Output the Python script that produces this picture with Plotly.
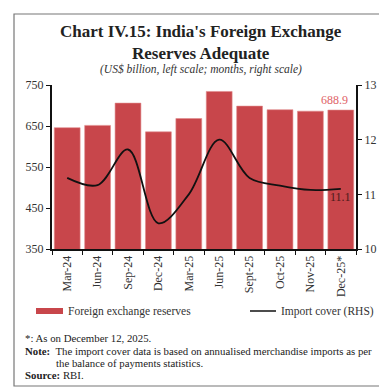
import plotly.graph_objects as go

months = ["Mar-24", "Jun-24", "Sep-24", "Dec-24", "Mar-25", "Jun-25", "Sept-25", "Oct-25", "Nov-25", "Dec-25*"]
reserves = [645.9, 651.5, 705.8, 635.7, 668.3, 734.3, 698.5, 689.7, 686.2, 688.9]
import_cover = [11.3, 11.17, 11.82, 10.47, 11.0, 12.0, 11.3, 11.16, 11.08, 11.1]

L, R, T, B = 44, 348, 77, 241
W = R - L
H = B - T

def px(x):
    return (x - L) / W

def py(y):
    return (B - y) / H

SERIF = "Liberation Serif"
BAR = "#C8464B"

fig = go.Figure()
fig.add_trace(go.Bar(x=months, y=reserves, marker=dict(color=BAR, line=dict(color="#E08A8C", width=0.6)),
                     name="Foreign exchange reserves", showlegend=False))
fig.add_trace(go.Scatter(x=months, y=import_cover, yaxis="y2", mode="lines",
                         line=dict(color="#111111", width=1.8, shape="spline", smoothing=1.0),
                         name="Import cover (RHS)", showlegend=False))

fig.update_layout(
    width=387, height=387,
    margin=dict(l=L, r=387 - R, t=T, b=387 - B),
    paper_bgcolor="white", plot_bgcolor="white",
    bargap=0.15,
    font=dict(family=SERIF, size=12, color="#333333"),
    xaxis=dict(type="category", tickangle=-90, tickson="boundaries", ticks="outside", ticklen=4,
               tickcolor="#111", showline=True, linecolor="#111", linewidth=2, showgrid=False,
               tickfont=dict(family=SERIF, size=12, color="#333")),
    yaxis=dict(range=[350, 750], tick0=350, dtick=100, ticks="outside", ticklen=4, tickcolor="#111",
               showline=True, linecolor="#111", linewidth=2, showgrid=False, zeroline=False,
               tickfont=dict(family=SERIF, size=12, color="#333")),
    yaxis2=dict(range=[10, 13], tick0=10, dtick=1, overlaying="y", side="right", ticks="outside", ticklen=4,
                tickcolor="#111", showline=True, linecolor="#111", linewidth=2, showgrid=False,
                zeroline=False, tickfont=dict(family=SERIF, size=12, color="#333")),
)

shapes = [
    dict(type="rect", xref="paper", yref="paper", x0=px(6), x1=px(380), y0=py(378), y1=py(6),
         line=dict(color="#777", width=1.2), fillcolor="rgba(0,0,0,0)", layer="below"),
    dict(type="rect", xref="paper", yref="paper", x0=px(28), x1=px(55), y0=py(306), y1=py(300),
         line=dict(width=0), fillcolor=BAR),
    dict(type="line", xref="paper", yref="paper", x0=px(242), x1=px(268), y0=py(303), y1=py(303),
         line=dict(color="#111", width=1.5)),
]
fig.update_layout(shapes=shapes)

ann = []
def text(x, y, s, size=11, anchor="left", color="#222", bold=False, italic=False):
    if bold:
        s = "<b>" + s + "</b>"
    if italic:
        s = "<i>" + s + "</i>"
    ann.append(dict(xref="paper", yref="paper", x=px(x), y=py(y), text=s, showarrow=False,
                    xanchor=anchor, yanchor="middle", font=dict(family=SERIF, size=size, color=color)))

text(193, 24, "Chart IV.15: India's Foreign Exchange", size=17, anchor="center", color="#222", bold=True)
text(193, 45, "Reserves Adequate", size=17, anchor="center", color="#222", bold=True)
text(193, 62, "(US$ billion, left scale; months, right scale)", size=11.5, anchor="center", color="#333", italic=True)
text(58, 303, "Foreign exchange reserves", size=11.5, color="#333")
text(271, 303, "Import cover (RHS)", size=11.5, color="#333")
text(15, 330, "*: As on December 12, 2025.", size=10.8, color="#222")
text(15, 343, "<b>Note:</b>  The import cover data is based on annualised merchandise imports as per", size=10.8, color="#222")
text(46, 355, "the balance of payments statistics.", size=10.8, color="#222")
text(15, 367, "<b>Source:</b> RBI.", size=10.8, color="#222")

ann.append(dict(x=months[-1], y=reserves[-1], xref="x", yref="y", text=f"{reserves[-1]:.1f}",
                showarrow=False, yshift=10, xshift=-6, font=dict(family=SERIF, size=12, color="#E06468")))
ann.append(dict(x=months[-1], y=import_cover[-1], xref="x", yref="y2", text=f"{import_cover[-1]:.1f}",
                showarrow=False, yshift=-8, xshift=0, font=dict(family=SERIF, size=12, color="#4a1a1a")))
fig.update_layout(annotations=ann)

fig.write_html("out.html")
